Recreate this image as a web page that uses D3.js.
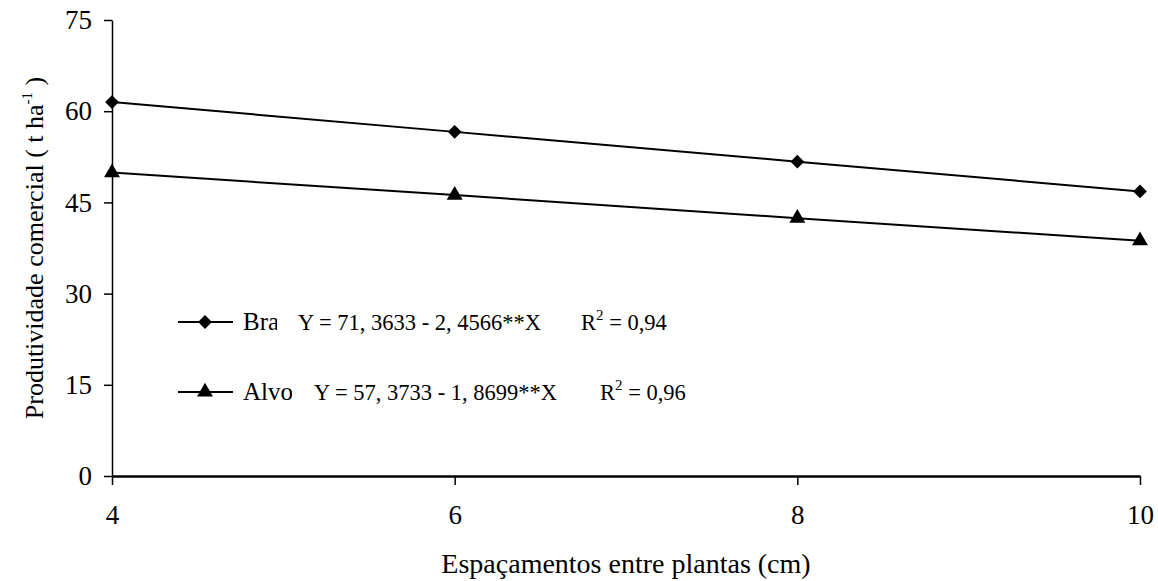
<!DOCTYPE html>
<html>
<head>
<meta charset="utf-8">
<script src="https://cdn.jsdelivr.net/npm/d3@7"></script>
<style>
  body { margin: 0; background: #fff; }
  svg { display: block; }
</style>
</head>
<body>
<svg id="chart" width="1158" height="581"></svg>
<script>
// data
const spacings = [4, 6, 8, 10];
const brassica = [61.5, 56.6, 51.7, 46.8];
const alvo = [49.9, 46.2, 42.4, 38.7];
const yTicks = [0, 15, 30, 45, 60, 75];
const xTicks = [4, 6, 8, 10];
const seriesNames = ['Bra', 'Alvo']; // legend labels are cut off in the figure
const equations = ['Y = 71, 3633 - 2, 4566**X', 'Y = 57, 3733 - 1, 8699**X'];
const r2Values = ['0,94', '0,96'];

const svg = d3.select('#chart');
const margin = { top: 20, right: 18, bottom: 105, left: 112 };
const width = 1158 - margin.left - margin.right;
const height = 581 - margin.top - margin.bottom;

const g = svg.append('g')
  .attr('transform', `translate(${margin.left},${margin.top})`);

const x = d3.scaleLinear().domain([4, 10]).range([0, width]);
const y = d3.scaleLinear().domain([0, 75]).range([height, 0]);

// axes
const xAxis = g.append('g')
  .attr('transform', `translate(0,${height})`)
  .call(d3.axisBottom(x).tickValues(xTicks).tickFormat(d3.format('d'))
    .tickSize(9).tickPadding(20).tickSizeOuter(0));
xAxis.select('.domain').attr('stroke-width', 2.5);

const yAxis = g.append('g')
  .call(d3.axisLeft(y).tickValues(yTicks).tickFormat(d3.format('d'))
    .tickSize(8).tickPadding(12).tickSizeOuter(0));
yAxis.select('.domain').attr('stroke-width', 1.5);

g.selectAll('.tick line').attr('stroke-width', 1.5);
g.selectAll('.tick text').attr('font-size', 27);

// lines
const line = d3.line()
  .x((d, i) => x(spacings[i]))
  .y(d => y(d));

const series = [
  { name: seriesNames[0], values: brassica, symbol: d3.symbolSquare, size: 95, rot: 45 },
  { name: seriesNames[1], values: alvo, symbol: d3.symbolTriangle, size: 110, rot: 0 }
];

series.forEach(s => {
  g.append('path')
    .datum(s.values)
    .attr('fill', 'none')
    .attr('stroke', '#000')
    .attr('stroke-width', 2)
    .attr('d', line);

  g.selectAll(null)
    .data(s.values)
    .enter().append('path')
    .attr('transform', (d, i) => `translate(${x(spacings[i])},${y(d)}) rotate(${s.rot})`)
    .attr('d', d3.symbol().type(s.symbol).size(s.size))
    .attr('fill', '#000');
});

// legend
const legendRows = [
  { y: 322, clipW: 34, eqX: 298, r2X: 581 },
  { y: 392, clipW: 49, eqX: 314, r2X: 600 }
];

legendRows.forEach((row, i) => {
  const s = series[i];
  const lg = svg.append('g');
  lg.append('line')
    .attr('x1', 178).attr('x2', 233)
    .attr('y1', row.y).attr('y2', row.y)
    .attr('stroke', '#000').attr('stroke-width', 2);
  lg.append('path')
    .attr('transform', `translate(205,${row.y}) rotate(${s.rot})`)
    .attr('d', d3.symbol().type(s.symbol).size(s.size))
    .attr('fill', '#000');

  svg.append('clipPath').attr('id', 'clip' + i)
    .append('rect')
    .attr('x', 243).attr('y', row.y - 25)
    .attr('width', row.clipW).attr('height', 40);

  lg.append('text')
    .attr('x', 243).attr('y', row.y + 8)
    .attr('font-size', 25)
    .attr('clip-path', `url(#clip${i})`)
    .text(s.name);

  lg.append('text')
    .attr('x', row.eqX).attr('y', row.y + 8)
    .attr('font-size', 22.5)
    .text(equations[i]);

  const r2 = lg.append('text')
    .attr('x', row.r2X).attr('y', row.y + 8)
    .attr('font-size', 22.5);
  r2.append('tspan').text('R');
  r2.append('tspan').attr('font-size', 15).attr('dy', -10).text('2');
  r2.append('tspan').attr('dy', 10).text(' = ' + r2Values[i]);
});

// axis titles
svg.append('text')
  .attr('x', margin.left + width / 2)
  .attr('y', 573)
  .attr('text-anchor', 'middle')
  .attr('font-size', 28)
  .text('Espaçamentos entre plantas (cm)');

const yt = svg.append('text')
  .attr('transform', `translate(43,${margin.top + height / 2}) rotate(-90)`)
  .attr('text-anchor', 'middle')
  .attr('font-size', 26);
yt.append('tspan').text('Produtividade comercial ( t ha');
yt.append('tspan').attr('font-size', 15).attr('dy', -11).text('-1');
yt.append('tspan').attr('dy', 11).text(' )');

// serif everywhere, black text
svg.selectAll('text')
  .style('font-family', '"Liberation Serif", "Times New Roman", serif')
  .style('fill', '#000');
</script>
</body>
</html>
